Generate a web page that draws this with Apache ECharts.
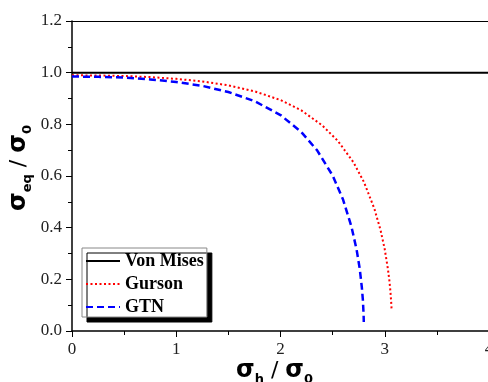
<!DOCTYPE html>
<html><head><meta charset="utf-8">
<script src="https://cdn.jsdelivr.net/npm/echarts@6/dist/echarts.min.js"></script>
<style>html,body{margin:0;padding:0;background:#fff}#c{width:488px;height:382px}</style>
</head><body><div id="c"></div>
<script>
const seriesNames = ['Von Mises', 'Gurson', 'GTN'];
const vonMisesX = [0, 4];
const vonMisesY = [1.0, 1.0];
const gursonX = [0, 0.25, 0.5, 0.75, 1.0, 1.25, 1.5, 1.75, 2.0, 2.2, 2.4, 2.55, 2.7, 2.8, 2.9, 2.96, 3.0, 3.03, 3.045, 3.055, 3.062, 3.066];
const gursonY = [0.990, 0.989, 0.987, 0.983, 0.976, 0.966, 0.951, 0.928, 0.894, 0.854, 0.796, 0.736, 0.653, 0.577, 0.474, 0.390, 0.316, 0.241, 0.193, 0.150, 0.110, 0.080];
const gtnX = [0, 0.25, 0.5, 0.75, 1.0, 1.25, 1.5, 1.75, 2.0, 2.2, 2.35, 2.5, 2.6, 2.68, 2.73, 2.76, 2.78, 2.79, 2.797, 2.799];
const gtnY = [0.985, 0.984, 0.981, 0.974, 0.964, 0.949, 0.925, 0.890, 0.836, 0.770, 0.700, 0.602, 0.509, 0.405, 0.315, 0.241, 0.170, 0.121, 0.065, 0.035];
const xAxisMin = 0, xAxisMax = 4, xInterval = 1;
const yAxisMin = 0, yAxisMax = 1.2, yInterval = 0.2;

const zip = (xs, ys) => xs.map((x, i) => [x, ys[i]]);
const tickFont = {fontFamily: 'Liberation Serif', fontSize: 17, color: '#222'};
const titleRich = {
  m: {fontFamily: 'DejaVu Sans', fontWeight: 'bold', fontSize: 24, lineHeight: 30, color: '#000'},
  n: {fontFamily: 'DejaVu Sans', fontWeight: 'normal', fontSize: 22, lineHeight: 30, color: '#000'},
  s: {fontFamily: 'DejaVu Sans', fontWeight: 'bold', fontSize: 13, lineHeight: 14, verticalAlign: 'bottom', color: '#000'}
};

const chart = echarts.init(document.getElementById('c'), null, {renderer: 'canvas'});
chart.setOption({
  animation: false,
  backgroundColor: '#fff',
  grid: {left: 72, top: 21, width: 417, height: 310, containLabel: false, outerBoundsMode: 'none'},
  xAxis: [{
    type: 'value', min: xAxisMin, max: xAxisMax, interval: xInterval,
    name: '{m|σ}{s|h}{n| / }{m|σ}{s|0}', nameLocation: 'middle', nameGap: 25, nameMoveOverlap: false,
    nameTextStyle: {padding: [0, 12, 0, 0], rich: titleRich},
    axisLine: {show: true, lineStyle: {color: '#000', width: 1.5}},
    axisTick: {show: true, length: 6, lineStyle: {color: '#000', width: 1}},
    minorTick: {show: true, splitNumber: 2, length: 4, lineStyle: {color: '#000', width: 1}},
    axisLabel: Object.assign({margin: 10}, tickFont),
    splitLine: {show: false}
  }, {
    type: 'value', position: 'top', min: xAxisMin, max: xAxisMax,
    axisLine: {show: true, onZero: false, lineStyle: {color: '#000', width: 1.2}},
    axisTick: {show: false}, axisLabel: {show: false}, splitLine: {show: false}
  }],
  yAxis: [{
    type: 'value', min: yAxisMin, max: yAxisMax, interval: yInterval,
    name: '{m|σ}{s|eq}{n| / }{m|σ}{s|0}', nameLocation: 'middle', nameGap: 38, nameMoveOverlap: false,
    nameTextStyle: {padding: [0, 0, 0, 16], rich: titleRich},
    axisLine: {show: true, lineStyle: {color: '#000', width: 1.5}},
    axisTick: {show: true, length: 6, lineStyle: {color: '#000', width: 1}},
    minorTick: {show: true, splitNumber: 2, length: 4, lineStyle: {color: '#000', width: 1}},
    axisLabel: Object.assign({margin: 10, formatter: v => v.toFixed(1)}, tickFont),
    splitLine: {show: false}
  }],
  legend: {
    orient: 'vertical', left: 82, top: 248,
    data: seriesNames,
    itemWidth: 34, itemHeight: 14, itemGap: 5,
    padding: [4, 3, 1, 3],
    backgroundColor: '#fff', borderColor: '#888', borderWidth: 1,
    shadowColor: '#000', shadowOffsetX: 5, shadowOffsetY: 5, shadowBlur: 0,
    itemStyle: {color: 'transparent', borderColor: 'transparent', borderWidth: 0, opacity: 0},
    textStyle: {fontFamily: 'Liberation Serif', fontWeight: 'bold', fontSize: 18, lineHeight: 18, color: '#000'}
  },
  series: [{
    name: seriesNames[0], type: 'line', data: zip(vonMisesX, vonMisesY), symbol: 'none',
    color: '#000', lineStyle: {color: '#000', width: 2, type: 'solid'}, z: 3
  }, {
    name: seriesNames[1], type: 'line', data: zip(gursonX, gursonY), symbol: 'none',
    color: '#ff0000', lineStyle: {color: '#ff0000', width: 2, type: [2, 2.5]}, z: 2
  }, {
    name: seriesNames[2], type: 'line', data: zip(gtnX, gtnY), symbol: 'none',
    color: '#0000ff', lineStyle: {color: '#0000ff', width: 2.5, type: [7, 4]}, z: 2
  }]
});
</script>
</body></html>
